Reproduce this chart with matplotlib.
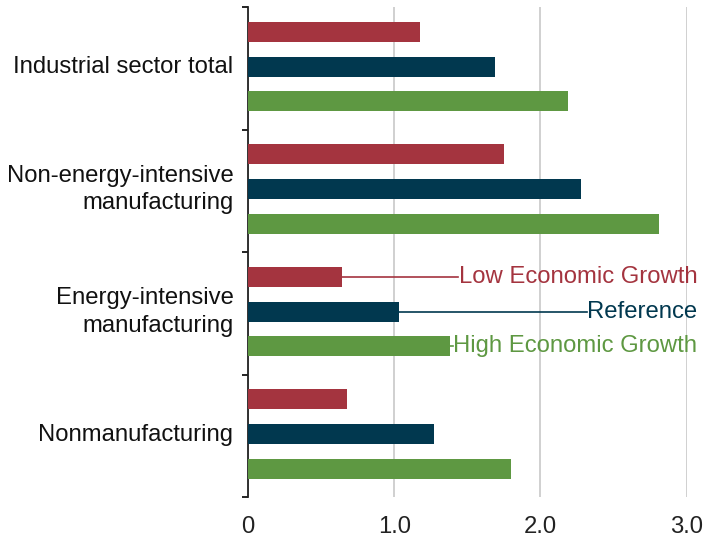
import numpy as np
import matplotlib
matplotlib.use("Agg")
import matplotlib.pyplot as plt

categories = ["Industrial sector total", "Non-energy-intensive\nmanufacturing",
              "Energy-intensive\nmanufacturing", "Nonmanufacturing"]
series = ["Low Economic Growth", "Reference", "High Economic Growth"]
low = [1.18, 1.75, 0.64, 0.68]
ref = [1.69, 2.28, 1.03, 1.27]
high = [2.19, 2.81, 1.38, 1.80]
colors = ["#A4343F", "#01384F", "#5E9842"]
xticks = [0, 1.0, 2.0, 3.0]
xticklabels = ["0", "1.0", "2.0", "3.0"]

plt.rcParams['font.family'] = ['Liberation Sans', 'DejaVu Sans']
FS = 17.2

fig = plt.figure(figsize=(7.04, 5.39), dpi=100)
ax = fig.add_axes([248/704, 1-497/539, (686.5-248)/704, (497-7)/539])

y = np.arange(len(categories))
offs = [-0.298, -0.012, 0.27]
for vals, off, c in zip([low, ref, high], offs, colors):
    ax.barh(y + off, vals, height=0.163, color=c, zorder=3)

ax.set_xlim(0, 3.0)
ax.set_ylim(len(categories) - 0.5, -0.5)
ax.set_xticks(xticks)
ax.set_xticklabels(xticklabels, fontsize=FS, color="#222222")
ax.tick_params(axis='x', length=0, pad=14)
ax.grid(axis='x', color="#c8c8c8", linewidth=1.2, zorder=0)
ax.set_axisbelow(True)

# category labels centered on groups, ticks at group boundaries
ax.set_yticks(np.arange(len(categories) + 1) - 0.5)
ax.set_yticklabels([])
ax.tick_params(axis='y', length=4, width=1.2, direction='out')
for i, cat in enumerate(categories):
    ax.text(-0.1, i - 0.01, cat, ha='right', va='center', fontsize=FS,
            multialignment='right', color="#111111", linespacing=1.35,
            transform=ax.transData, clip_on=False)

for s in ['top', 'right', 'bottom']:
    ax.spines[s].set_visible(False)
ax.spines['left'].set_linewidth(1.3)
ax.spines['left'].set_color('#222222')

# inline series labels on the energy-intensive group
k = 2
fig.canvas.draw()
r = fig.canvas.get_renderer()
inv = ax.transData.inverted()
for name, vals, off, c in zip(series, [low, ref, high], offs, colors):
    t = ax.text(3.075, k + off, name, ha='right', va='center', fontsize=FS,
                color=c, clip_on=False)
    bb = t.get_window_extent(renderer=r)
    x_left = inv.transform((bb.x0, bb.y0))[0]
    ax.plot([vals[k], x_left - 0.005], [k + off, k + off], color=c,
            linewidth=1.2, clip_on=False, zorder=4)

fig.savefig("out.png", dpi=100)
